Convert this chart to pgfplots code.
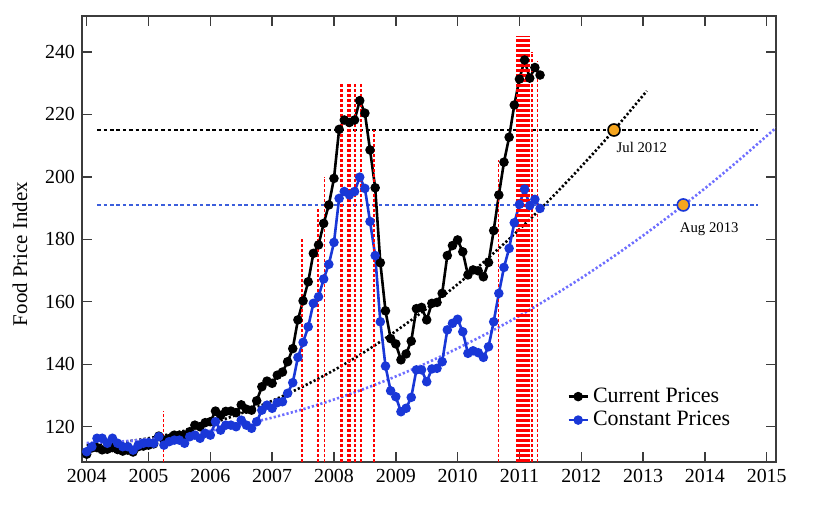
\documentclass[border=0pt]{standalone}
\usepackage{fontspec}
\setmainfont{Liberation Serif}
\usepackage{pgfplots}
\usepackage{pgfplotstable}
\pgfplotsset{compat=1.18}

\definecolor{dataBlue}{RGB}{25,55,215}
\definecolor{dashBlue}{RGB}{60,95,220}
\definecolor{trendBlue}{RGB}{110,110,255}
\definecolor{dotOrange}{RGB}{245,165,30}
\definecolor{axisGray}{RGB}{60,60,60}
\definecolor{riotRed}{RGB}{255,0,0}

% monthly food price index, m = months since Jan 2004
\pgfplotstableread{
m   cur    con
0   111.2  112.0
1   113.2  113.6
2   113.3  116.3
3   112.6  116.3
4   112.8  114.7
5   113.3  116.3
6   112.7  114.7
7   112.2  113.6
8   112.5  113.6
9   111.9  112.5
10  113.6  114.1
11  113.8  114.7
12  114.1  114.9
13  114.5  114.7
14  117.0  116.8
15  115.7  114.1
16  116.2  115.2
17  117.3  115.7
18  117.3  115.7
19  117.3  114.7
20  118.4  116.8
21  120.5  117.3
22  120.0  116.3
23  121.3  117.9
24  121.6  117.3
25  125.0  121.6
26  123.6  118.9
27  124.9  120.5
28  125.0  120.5
29  124.5  120.0
30  127.0  122.1
31  125.6  120.5
32  125.3  119.5
33  128.3  121.6
34  132.8  125.3
35  134.6  126.9
36  133.9  125.9
37  136.5  127.7
38  137.5  128.0
39  140.8  130.7
40  145.0  134.1
41  154.2  142.2
42  160.3  147.0
43  166.4  152.0
44  175.5  159.5
45  178.2  161.6
46  185.1  167.3
47  191.0  172.0
48  199.5  179.0
49  215.2  193.1
50  218.2  195.3
51  217.4  194.2
52  218.2  195.3
53  224.4  199.9
54  220.4  196.3
55  208.6  185.7
56  196.5  174.8
57  172.5  153.6
58  157.1  139.4
59  148.2  131.5
60  146.5  129.6
61  141.4  124.8
62  143.3  125.9
63  147.4  129.4
64  157.8  138.2
65  158.2  138.2
66  154.2  134.4
67  159.5  138.5
68  159.8  138.7
69  162.7  140.8
70  174.8  151.0
71  178.0  153.1
72  179.8  154.4
73  176.0  150.4
74  168.6  143.5
75  170.2  144.3
76  169.9  143.7
77  168.0  142.2
78  172.6  145.6
79  182.8  153.6
80  194.2  162.7
81  204.7  171.0
82  212.7  177.1
83  223.0  185.3
84  231.3  191.2
85  237.4  196.1
86  231.6  190.8
87  235.0  192.8
88  232.6  189.9
}\foodtable

\begin{document}
\begin{tikzpicture}
\begin{axis}[
    name=ax,
    scale only axis,
    width=347bp, height=223bp,
    xmin=2003.924, xmax=2015.15,
    ymin=108.7, ymax=251.5,
    xtick={2004,2005,...,2015},
    ytick={120,140,...,240},
    minor tick num=0,
    tick align=inside,
    major tick length=5bp,
    tick style={axisGray, line width=0.7bp},
    axis line style={axisGray, line width=0.8bp},
    /pgf/number format/1000 sep={},
    /pgf/number format/assume math mode=true,
    ticklabel style={font=\fontsize{10}{12}\selectfont},
    every axis y label/.style={at={(axis description cs:0,0.5)}, xshift=-31bp, yshift=-7.5bp,
        rotate=90, anchor=center, font=\fontsize{10.5}{12}\selectfont},
    ylabel={Food Price Index},
    legend cell align=left,
    legend style={draw=none, fill=none, at={(rel axis cs:0.69,0.185)}, anchor=north west,
        font=\fontsize{11}{13}\selectfont, row sep=-1bp},
    legend image code/.code={
        \draw[mark repeat=2, mark phase=2] plot coordinates {(0cm,0cm) (0.17cm,0cm) (0.34cm,0cm)};
    },
    riot/.style={color=riotRed, line width=0.7bp, dash pattern=on 1.5bp off 1bp, forget plot},
]

% trend curves
\addplot[black, line width=1.3bp, dash pattern=on 1.1bp off 1.1bp, smooth, forget plot] coordinates {
    (2004,114.1) (2004.5,114.9) (2005,116.3) (2005.5,118.3) (2006,121.0) (2006.5,124.3)
    (2007,128.3) (2007.5,132.9) (2008,138.1) (2008.5,144.0) (2009,150.6) (2009.5,157.8)
    (2010,165.6) (2010.5,174.1) (2011,183.2) (2011.5,192.9) (2012,203.3) (2012.5,214.3)
    (2013.06,227.5)
};
\addplot[trendBlue, line width=1.3bp, dash pattern=on 1.1bp off 1.1bp, smooth, forget plot] coordinates {
    (2004,114.8) (2004.5,115.2) (2005,116.0) (2005.5,117.1) (2006,118.7) (2006.5,120.6)
    (2007,122.9) (2007.5,125.6) (2008,128.7) (2008.5,132.2) (2009,136.1) (2009.5,140.4)
    (2010,145.1) (2010.5,150.1) (2011,155.5) (2011.5,161.4) (2012,167.6) (2012.5,174.2)
    (2013,181.2) (2013.5,188.6) (2014,196.3) (2014.5,204.5) (2015,213.1) (2015.15,215.7)
};

% threshold levels
\addplot[black, line width=0.6bp, dash pattern=on 1.8bp off 1.4bp, forget plot] coordinates {(2004.17,215) (2014.86,215)};
\addplot[dashBlue, line width=0.6bp, dash pattern=on 1.8bp off 1.4bp, forget plot] coordinates {(2004.17,191) (2014.86,191)};

% price series
\addplot[black, line width=1.3bp, mark=*, mark size=1.7bp] table[x expr=2004+\thisrow{m}/12, y=cur] {\foodtable};
\addlegendentry{Current Prices}
\addplot[dataBlue, line width=1.3bp, mark=*, mark size=1.7bp, mark options={fill=dataBlue}] table[x expr=2004+\thisrow{m}/12, y=con] {\foodtable};
\addlegendentry{Constant Prices}

% event markers (food riots)
\addplot[riot] coordinates {(2005.24,108.7) (2005.24,125)};
\addplot[riot] coordinates {(2007.48,108.7) (2007.48,180)};
\addplot[riot] coordinates {(2007.74,108.7) (2007.74,190)};
\addplot[riot] coordinates {(2007.85,108.7) (2007.85,200)};
\addplot[riot] coordinates {(2008.11,108.7) (2008.11,230)};
\addplot[riot] coordinates {(2008.125,108.7) (2008.125,230)};
\addplot[riot] coordinates {(2008.14,108.7) (2008.14,230)};
\addplot[riot] coordinates {(2008.215,108.7) (2008.215,230)};
\addplot[riot] coordinates {(2008.23,108.7) (2008.23,230)};
\addplot[riot] coordinates {(2008.245,108.7) (2008.245,230)};
\addplot[riot] coordinates {(2008.26,108.7) (2008.26,230)};
\addplot[riot] coordinates {(2008.33,108.7) (2008.33,230)};
\addplot[riot] coordinates {(2008.345,108.7) (2008.345,230)};
\addplot[riot] coordinates {(2008.44,108.7) (2008.44,230)};
\addplot[riot] coordinates {(2008.65,108.7) (2008.65,215)};
\addplot[riot] coordinates {(2010.66,108.7) (2010.66,205.4)};
\addplot[riot] coordinates {(2010.96,108.7) (2010.96,245)};
\addplot[riot] coordinates {(2010.98,108.7) (2010.98,245)};
\addplot[riot] coordinates {(2011.00,108.7) (2011.00,245)};
\addplot[riot] coordinates {(2011.02,108.7) (2011.02,245)};
\addplot[riot] coordinates {(2011.04,108.7) (2011.04,245)};
\addplot[riot] coordinates {(2011.06,108.7) (2011.06,245)};
\addplot[riot] coordinates {(2011.08,108.7) (2011.08,245)};
\addplot[riot] coordinates {(2011.10,108.7) (2011.10,245)};
\addplot[riot] coordinates {(2011.12,108.7) (2011.12,245)};
\addplot[riot] coordinates {(2011.14,108.7) (2011.14,245)};
\addplot[riot] coordinates {(2011.16,108.7) (2011.16,245)};
\addplot[riot] coordinates {(2011.20,108.7) (2011.20,240)};
\addplot[riot] coordinates {(2011.29,108.7) (2011.29,237)};

% projected crossing points
\addplot[only marks, mark=*, mark size=3bp, mark options={fill=dotOrange, draw=black, line width=0.8bp}, forget plot] coordinates {(2012.53,215)};
\addplot[only marks, mark=*, mark size=3bp, mark options={fill=dotOrange, draw=dataBlue, line width=0.8bp}, forget plot] coordinates {(2013.65,191)};
\node[font=\fontsize{7.4}{9}\selectfont] at (axis cs:2012.98,209.3) {Jul 2012};
\node[font=\fontsize{7.4}{9}\selectfont] at (axis cs:2014.07,183.3) {Aug 2013};

\end{axis}
\pgfresetboundingbox
\path[use as bounding box] ([shift={(-41bp,-31bp)}]ax.south west) rectangle ([shift={(20.5bp,8bp)}]ax.north east);
\end{tikzpicture}
\end{document}
